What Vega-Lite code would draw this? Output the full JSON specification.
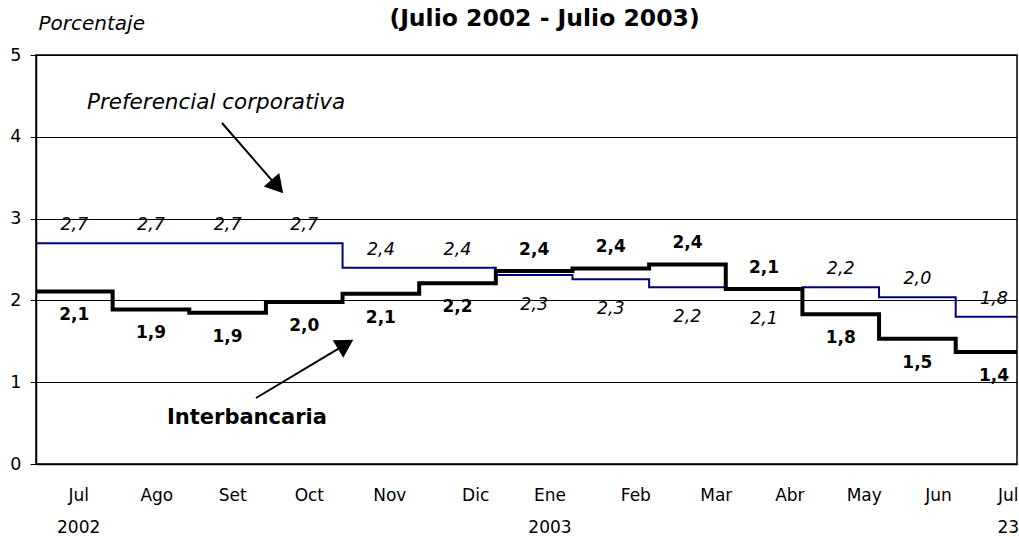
{
  "$schema": "https://vega.github.io/schema/vega-lite/v6.json",
  "width": 981,
  "height": 409,
  "autosize": {"type": "none"},
  "padding": {"left": 36, "top": 55, "right": 2, "bottom": 73},
  "background": "white",
  "title": {
    "text": "(Julio 2002 - Julio 2003)",
    "font": "DejaVu Sans",
    "fontSize": 23.5,
    "fontWeight": "bold",
    "color": "black",
    "anchor": "middle",
    "frame": "group",
    "dx": 18,
    "offset": -41,
    "baseline": "bottom"
  },
  "config": {
    "font": "DejaVu Sans",
    "locale": {"number": {"decimal": ",", "thousands": ".", "grouping": [3], "currency": ["", ""]}},
    "view": {"stroke": "black", "strokeWidth": 1.5}
  },
  "datasets": {
    "tasas": [
      {"serie": "Preferencial corporativa", "t": -0.5, "valor": 2.70, "pos": "extremo"},
      {"serie": "Preferencial corporativa", "t": 0, "valor": 2.70, "pos": "arriba"},
      {"serie": "Preferencial corporativa", "t": 1, "valor": 2.70, "pos": "arriba"},
      {"serie": "Preferencial corporativa", "t": 2, "valor": 2.70, "pos": "arriba"},
      {"serie": "Preferencial corporativa", "t": 3, "valor": 2.70, "pos": "arriba"},
      {"serie": "Preferencial corporativa", "t": 4, "valor": 2.40, "pos": "arriba"},
      {"serie": "Preferencial corporativa", "t": 5, "valor": 2.40, "pos": "arriba"},
      {"serie": "Preferencial corporativa", "t": 6, "valor": 2.31, "pos": "abajo"},
      {"serie": "Preferencial corporativa", "t": 7, "valor": 2.26, "pos": "abajo"},
      {"serie": "Preferencial corporativa", "t": 8, "valor": 2.16, "pos": "abajo"},
      {"serie": "Preferencial corporativa", "t": 9, "valor": 2.14, "pos": "abajo"},
      {"serie": "Preferencial corporativa", "t": 10, "valor": 2.16, "pos": "arriba"},
      {"serie": "Preferencial corporativa", "t": 11, "valor": 2.04, "pos": "arriba"},
      {"serie": "Preferencial corporativa", "t": 12, "valor": 1.80, "pos": "arriba"},
      {"serie": "Preferencial corporativa", "t": 12.3, "valor": 1.80, "pos": "extremo"},
      {"serie": "Interbancaria", "t": -0.5, "valor": 2.11, "pos": "extremo"},
      {"serie": "Interbancaria", "t": 0, "valor": 2.11, "pos": "abajo"},
      {"serie": "Interbancaria", "t": 1, "valor": 1.89, "pos": "abajo"},
      {"serie": "Interbancaria", "t": 2, "valor": 1.85, "pos": "abajo"},
      {"serie": "Interbancaria", "t": 3, "valor": 1.98, "pos": "abajo"},
      {"serie": "Interbancaria", "t": 4, "valor": 2.08, "pos": "abajo"},
      {"serie": "Interbancaria", "t": 5, "valor": 2.21, "pos": "abajo"},
      {"serie": "Interbancaria", "t": 6, "valor": 2.36, "pos": "arriba"},
      {"serie": "Interbancaria", "t": 7, "valor": 2.39, "pos": "arriba"},
      {"serie": "Interbancaria", "t": 8, "valor": 2.44, "pos": "arriba"},
      {"serie": "Interbancaria", "t": 9, "valor": 2.14, "pos": "arriba"},
      {"serie": "Interbancaria", "t": 10, "valor": 1.83, "pos": "abajo"},
      {"serie": "Interbancaria", "t": 11, "valor": 1.53, "pos": "abajo"},
      {"serie": "Interbancaria", "t": 12, "valor": 1.37, "pos": "abajo"},
      {"serie": "Interbancaria", "t": 12.3, "valor": 1.37, "pos": "extremo"}
    ]
  },
  "layer": [
    {
      "data": {"name": "tasas"},
      "transform": [{"filter": "datum.serie == 'Preferencial corporativa'"}],
      "mark": {"type": "line", "interpolate": "step", "color": "#000080", "strokeWidth": 2},
      "encoding": {
        "x": {
          "field": "t", "type": "quantitative",
          "scale": {"domain": [-0.5, 12.3], "nice": false, "zero": false},
          "axis": {
            "title": null,
            "values": [0.05, 1.07, 2.06, 3.06, 4.11, 5.23, 6.2, 7.32, 8.37, 9.33, 10.3, 11.27, 12.18],
            "labelExpr": "[['Jul','2002'],'Ago','Set','Oct','Nov','Dic',['Ene','2003'],'Feb','Mar','Abr','May','Jun',['Jul','23']][round(datum.value)]",
            "ticks": false,
            "tickSize": 0,
            "grid": false,
            "domain": true,
            "domainColor": "black",
            "domainWidth": 1.5,
            "labelFont": "DejaVu Sans",
            "labelFontSize": 17,
            "labelColor": "black",
            "labelLineHeight": 32,
            "labelBaseline": "top",
            "labelPadding": 23,
            "labelFlush": false,
            "labelOverlap": false,
            "labelBound": false
          }
        },
        "y": {
          "field": "valor", "type": "quantitative",
          "scale": {"domain": [0, 5], "nice": false, "zero": true},
          "axis": {
            "values": [0, 1, 2, 3, 4, 5],
            "format": "d",
            "title": "Porcentaje",
            "titleAngle": 0,
            "titleAlign": "left",
            "titleBaseline": "alphabetic",
            "titleX": 2,
            "titleY": -26,
            "titleFont": "DejaVu Sans",
            "titleFontStyle": "italic",
            "titleFontWeight": "normal",
            "titleFontSize": 20,
            "titleColor": "black",
            "labelFont": "DejaVu Sans",
            "labelFontSize": 17.5,
            "labelColor": "black",
            "labelPadding": 9,
            "tickSize": 6,
            "tickColor": "black",
            "tickWidth": 1,
            "domainColor": "black",
            "domainWidth": 1.5,
            "grid": true,
            "gridColor": "black",
            "gridWidth": 1,
            "gridOpacity": 1
          }
        }
      }
    },
    {
      "data": {"name": "tasas"},
      "transform": [{"filter": "datum.serie == 'Interbancaria'"}],
      "mark": {"type": "line", "interpolate": "step", "color": "black", "strokeWidth": 4},
      "encoding": {
        "x": {"field": "t", "type": "quantitative"},
        "y": {"field": "valor", "type": "quantitative"}
      }
    },
    {
      "data": {"name": "tasas"},
      "transform": [{"filter": "datum.serie == 'Preferencial corporativa' && datum.pos == 'arriba'"}],
      "mark": {"type": "text", "font": "DejaVu Sans", "fontStyle": "italic", "fontSize": 17.5, "color": "black", "baseline": "middle", "dy": -18},
      "encoding": {
        "x": {"field": "t", "type": "quantitative"},
        "y": {"field": "valor", "type": "quantitative"},
        "text": {"field": "valor", "type": "quantitative", "format": ".1f"}
      }
    },
    {
      "data": {"name": "tasas"},
      "transform": [{"filter": "datum.serie == 'Preferencial corporativa' && datum.pos == 'abajo'"}],
      "mark": {"type": "text", "font": "DejaVu Sans", "fontStyle": "italic", "fontSize": 17.5, "color": "black", "baseline": "middle", "dy": 30},
      "encoding": {
        "x": {"field": "t", "type": "quantitative"},
        "y": {"field": "valor", "type": "quantitative"},
        "text": {"field": "valor", "type": "quantitative", "format": ".1f"}
      }
    },
    {
      "data": {"name": "tasas"},
      "transform": [{"filter": "datum.serie == 'Interbancaria' && datum.pos == 'arriba'"}],
      "mark": {"type": "text", "font": "DejaVu Sans", "fontWeight": "bold", "fontSize": 17, "color": "black", "baseline": "middle", "dy": -21},
      "encoding": {
        "x": {"field": "t", "type": "quantitative"},
        "y": {"field": "valor", "type": "quantitative"},
        "text": {"field": "valor", "type": "quantitative", "format": ".1f"}
      }
    },
    {
      "data": {"name": "tasas"},
      "transform": [{"filter": "datum.serie == 'Interbancaria' && datum.pos == 'abajo'"}],
      "mark": {"type": "text", "font": "DejaVu Sans", "fontWeight": "bold", "fontSize": 17, "color": "black", "baseline": "middle", "dy": 24},
      "encoding": {
        "x": {"field": "t", "type": "quantitative"},
        "y": {"field": "valor", "type": "quantitative"},
        "text": {"field": "valor", "type": "quantitative", "format": ".1f"}
      }
    },
    {
      "data": {"values": [{}]},
      "mark": {"type": "text", "text": "Preferencial corporativa", "font": "DejaVu Sans", "fontStyle": "italic", "fontSize": 21.5, "color": "black", "align": "left", "baseline": "middle"},
      "encoding": {
        "x": {"datum": 0.165, "type": "quantitative"},
        "y": {"datum": 4.413, "type": "quantitative"}
      }
    },
    {
      "data": {"values": [{}]},
      "mark": {"type": "text", "text": "Interbancaria", "font": "DejaVu Sans", "fontWeight": "bold", "fontSize": 21, "color": "black", "align": "left", "baseline": "middle"},
      "encoding": {
        "x": {"datum": 1.209, "type": "quantitative"},
        "y": {"datum": 0.562, "type": "quantitative"}
      }
    },
    {
      "data": {"values": [{}]},
      "mark": {"type": "rule", "color": "black", "strokeWidth": 2},
      "encoding": {
        "x": {"datum": 1.927, "type": "quantitative"},
        "y": {"datum": 4.169, "type": "quantitative"},
        "x2": {"datum": 2.649},
        "y2": {"datum": 3.392}
      }
    },
    {
      "data": {"values": [{}]},
      "mark": {"type": "point", "shape": "triangle-up", "filled": true, "size": 420, "color": "black", "opacity": 1, "angle": 139},
      "encoding": {
        "x": {"datum": 2.649, "type": "quantitative"},
        "y": {"datum": 3.392, "type": "quantitative"}
      }
    },
    {
      "data": {"values": [{}]},
      "mark": {"type": "rule", "color": "black", "strokeWidth": 2},
      "encoding": {
        "x": {"datum": 2.371, "type": "quantitative"},
        "y": {"datum": 0.807, "type": "quantitative"},
        "x2": {"datum": 3.540},
        "y2": {"datum": 1.462}
      }
    },
    {
      "data": {"values": [{}]},
      "mark": {"type": "point", "shape": "triangle-up", "filled": true, "size": 420, "color": "black", "opacity": 1, "angle": 59},
      "encoding": {
        "x": {"datum": 3.540, "type": "quantitative"},
        "y": {"datum": 1.462, "type": "quantitative"}
      }
    }
  ]
}
